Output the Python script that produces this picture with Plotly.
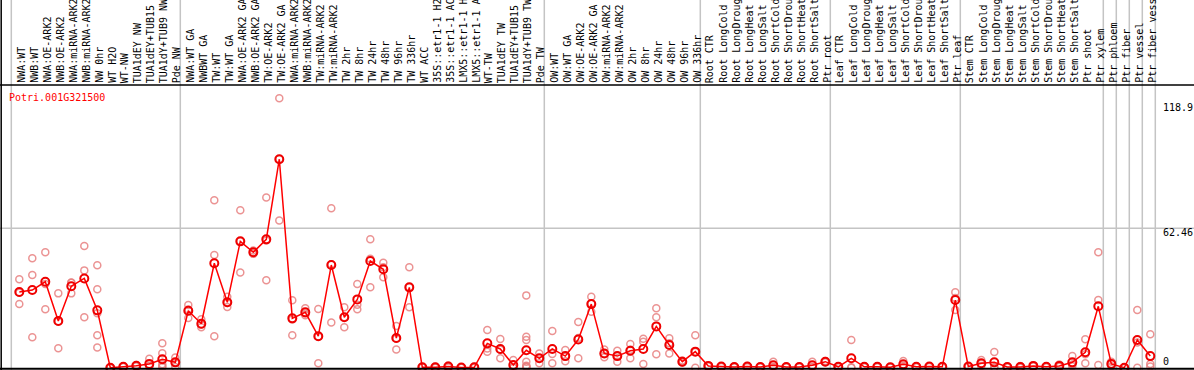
import plotly.graph_objects as go

gene = "Potri.001G321500"

categories = [
    "NWA:WT", "NWB:WT", "NWA:OE-ARK2", "NWB:OE-ARK2", "NWA:miRNA-ARK2", "NWB:miRNA-ARK2",
    "NW 0hr", "WT H2O", "WT-NW", "TUA1dEY NW", "TUA1dEY+TUB15 NW", "TUA1dY+TUB9 NW", "Pde NW",
    "NWA:WT GA", "NWBWT GA", "TW:WT", "TW:WT GA", "NWA:OE-ARK2 GA", "NWB:OE-ARK2 GA",
    "TW:OE-ARK2", "TW:OE-ARK2 GA", "NWA:miRNA-ARK2", "NWB:miRNA-ARK2", "TW:miRNA-ARK2",
    "TW:miRNA-ARK2", "TW 2hr", "TW 8hr", "TW 24hr", "TW 48hr", "TW 96hr", "TW 336hr",
    "WT ACC", "35S::etr1-1 H2O", "35S::etr1-1 ACC", "LMX5::etr1-1 H2O", "LMX5::etr1-1 ACC",
    "WT-TW", "TUA1dEY TW", "TUA1dEY+TUB15 TW", "TUA1dY+TUB9 TW", "Pde TW",
    "OW:WT", "OW:WT GA", "OW:OE-ARK2", "OW:OE-ARK2 GA", "OW:miRNA-ARK2", "OW:miRNA-ARK2",
    "OW 2hr", "OW 8hr", "OW 24hr", "OW 48hr", "OW 96hr", "OW 336hr",
    "Root CTR", "Root LongCold", "Root LongDrought", "Root LongHeat", "Root LongSalt",
    "Root ShortCold", "Root ShortDrought", "Root ShortHeat", "Root ShortSalt", "Ptr root",
    "Leaf CTR", "Leaf LongCold", "Leaf LongDrought", "Leaf LongHeat", "Leaf LongSalt",
    "Leaf ShortCold", "Leaf ShortDrought", "Leaf ShortHeat", "Leaf ShortSalt", "Ptr leaf",
    "Stem CTR", "Stem LongCold", "Stem LongDrought", "Stem LongHeat", "Stem LongSalt",
    "Stem ShortCold", "Stem ShortDrought", "Stem ShortHeat", "Stem ShortSalt", "Ptr shoot",
    "Ptr xylem", "Ptr phloem", "Ptr fiber", "Ptr vessel", "Ptr fiber vessel",
]

means = [
    33.9, 34.8, 38.5, 20.9, 36.5, 40.0, 25.7, 0.0, 0.45, 0.9, 1.7, 3.8, 2.4,
    25.5, 19.7, 46.8, 29.3, 56.6, 51.7, 57.5, 93.4, 22.1, 24.8, 14.1, 46.0,
    22.6, 30.6, 47.8, 44.1, 13.3, 36.0, 0.2, 0.2, 0.5, 0.1, 0.2, 10.9, 8.4,
    1.2, 7.8, 4.2,
    8.4, 5.2, 12.6, 28.5, 6.4, 5.2, 7.6, 8.4, 18.5, 10.2, 2.7, 7.2,
    0.8, 0.5, 0.3, 0.5, 0.3, 1.1, 0.3, 0.3, 1.1, 2.7,
    0.4, 4.2, 0.4, 0.4, 0.2, 1.5, 0.4, 0.5, 0.4, 30.3,
    0.5, 2.0, 2.4, 0.3, 0.3, 0.8, 0.4, 0.8, 2.4, 6.9, 27.5,
    1.7, 0.0, 12.4, 5.2,
]

replicates = [
    [39.6, 33.6, 28.5], [49.0, 41.5, 13.6], [51.7, 37.5, 26.2], [33.3, 20.7, 8.7],
    [38.1, 33.3, 38.2], [54.5, 43.6, 22.6], [45.9, 35.1, 24.4, 14.5, 9.1],
    [0.0, 0.0, 0.0], [0.7, 0.4, 0.3], [1.2, 0.8, 0.7], [4.0, 0.8, 0.4],
    [11.0, 6.5, 1.5, 0.8, 0.2], [4.6, 2.2, 0.3],
    [28.1, 26.1, 22.3], [21.7, 19.3, 18.1], [75.0, 50.5, 14.1], [31.8, 29.0, 27.2],
    [70.5, 56.6, 42.7], [52.5, 51.6, 51.0], [76.3, 57.0, 39.2], [120.7, 93.5, 66.0],
    [30.2, 21.6, 14.5], [26.6, 24.3, 23.5], [26.3, 14.0, 2.0], [71.4, 46.3, 20.3],
    [27.1, 22.6, 18.1], [37.5, 28.2, 26.2], [57.5, 48.8, 36.0], [47.0, 45.0, 40.5],
    [18.7, 13.0, 8.2], [45.0, 36.0, 27.1],
    [0.3, 0.2, 0.1], [0.4, 0.2, 0.0], [1.0, 0.4, 0.1], [0.2, 0.1, 0.0], [0.4, 0.2, 0.0],
    [16.9, 8.6, 7.2], [12.9, 8.0, 4.2], [3.4, 0.2, 0.0],
    [32.4, 13.9, 12.4, 2.7, 0.9, 0.5, 0.4, 0.2], [6.4, 4.2, 2.0],
    [16.4, 6.1, 2.0], [7.9, 5.0, 2.9], [20.5, 13.3, 4.2], [31.8, 28.7, 25.1],
    [8.2, 6.4, 4.7], [7.6, 5.3, 2.7], [10.6, 8.0, 4.2], [13.0, 11.6, 1.7],
    [26.6, 22.6, 6.0], [13.2, 11.0, 6.4], [3.2, 2.7, 2.2], [14.5, 7.0, 0.0],
    [1.0, 0.8, 0.6], [0.7, 0.5, 0.3], [0.4, 0.3, 0.2], [0.8, 0.5, 0.2], [0.4, 0.3, 0.2],
    [2.7, 0.4, 0.2], [0.4, 0.3, 0.2], [0.4, 0.3, 0.2], [2.7, 0.4, 0.2], [3.0, 2.7, 2.4],
    [0.6, 0.4, 0.2], [12.4, 0.2, 0.0], [0.6, 0.4, 0.2], [0.6, 0.4, 0.2], [0.3, 0.2, 0.1],
    [3.0, 1.0, 0.5], [0.6, 0.4, 0.2], [0.7, 0.5, 0.3], [0.6, 0.4, 0.2], [33.8, 31.2, 25.9],
    [0.7, 0.5, 0.3], [3.4, 1.8, 0.8], [7.0, 0.1, 0.1], [0.4, 0.3, 0.2], [0.8, 0.3, 0.0],
    [1.0, 0.8, 0.6], [0.6, 0.4, 0.2], [1.4, 0.6, 0.4], [5.2, 1.4, 0.6], [12.7, 6.0, 2.0],
    [51.7, 30.3, 1.2],
    [2.7, 1.7, 0.7], [0.0, 0.0, 0.0], [25.9, 11.3, 0.0], [15.0, 1.7, 0.5],
]

group_starts = [0, 13, 41, 53, 63, 73, 84, 85, 86, 87, 88]
y_labels = [118.9, 62.46, 0]
y_label_shift = [-5, -4, 6]
grid_value = 62.46

# ---- layout geometry (pixels) ----
W, H = 1194, 370
x_first_px, step_px = 19.3, 13.0
zero_px, px_per_unit = 367.7, 2.232
header_px = 85
sep_offset_px = 8

x_range = [(0 - x_first_px) / step_px, (W - x_first_px) / step_px]
y_range = [(zero_px - H) / px_per_unit, zero_px / px_per_unit]

mono = "DejaVu Sans Mono"
fig = go.Figure()

rx, ry = [], []
for i, reps in enumerate(replicates):
    for v in reps:
        rx.append(i)
        ry.append(v)

fig.add_trace(go.Scatter(
    x=rx, y=ry, mode="markers", hoverinfo="skip",
    marker=dict(symbol="circle-open", size=7, color="rgba(232,128,128,0.85)",
                line=dict(width=1.5)),
))
fig.add_trace(go.Scatter(
    x=list(range(len(means))), y=means, mode="lines+markers",
    line=dict(color="#ff0000", width=1.5),
    marker=dict(symbol="circle-open", size=8, color="#ee0000", line=dict(width=2)),
))

shapes = []
for g in group_starts:
    xv = g - sep_offset_px / step_px
    shapes.append(dict(type="line", xref="x", yref="paper", x0=xv, x1=xv, y0=0, y1=1,
                       line=dict(color="#c4c4c4", width=1.5), layer="below"))
shapes.append(dict(type="line", xref="paper", yref="y", x0=0, x1=1, y0=grid_value, y1=grid_value,
                   line=dict(color="#c4c4c4", width=1.5), layer="below"))
shapes.append(dict(type="line", xref="paper", yref="paper", x0=0, x1=1,
                   y0=1 - header_px / H, y1=1 - header_px / H,
                   line=dict(color="black", width=1.5)))
shapes.append(dict(type="line", xref="paper", yref="paper", x0=0, x1=1,
                   y0=1.2 / H, y1=1.2 / H, line=dict(color="black", width=2)))
shapes.append(dict(type="line", xref="paper", yref="paper", x0=1.2 / W, x1=1.2 / W,
                   y0=0, y1=1, line=dict(color="black", width=1.5)))

annotations = []
for i, c in enumerate(categories):
    annotations.append(dict(
        x=i, y=1 - (header_px - 1) / H, xref="x", yref="paper", xshift=1.5,
        text=c, textangle=-90, showarrow=False, xanchor="center", yanchor="bottom",
        font=dict(family=mono, size=10, color="black"), borderpad=0,
    ))
for v, s in zip(y_labels, y_label_shift):
    annotations.append(dict(
        x=1162 / W, y=v, xref="paper", yref="y", yshift=s,
        text=str(v), showarrow=False, xanchor="left", yanchor="middle",
        font=dict(family=mono, size=10, color="black"), borderpad=0,
    ))
annotations.append(dict(
    x=8 / W, y=1 - 97 / H, xref="paper", yref="paper", text=gene, showarrow=False,
    xanchor="left", yanchor="middle", font=dict(family=mono, size=10, color="#ff0000"),
    borderpad=0,
))

fig.update_layout(
    width=W, height=H, autosize=False,
    margin=dict(l=0, r=0, t=0, b=0, pad=0),
    paper_bgcolor="white", plot_bgcolor="white",
    showlegend=False,
    xaxis=dict(range=x_range, visible=False, fixedrange=True),
    yaxis=dict(range=y_range, visible=False, fixedrange=True),
    shapes=shapes, annotations=annotations,
)

fig.write_html(
    "out.html",
    config={"displayModeBar": False},
    post_script="document.body.style.margin='0px';document.body.style.overflow='hidden';",
)
